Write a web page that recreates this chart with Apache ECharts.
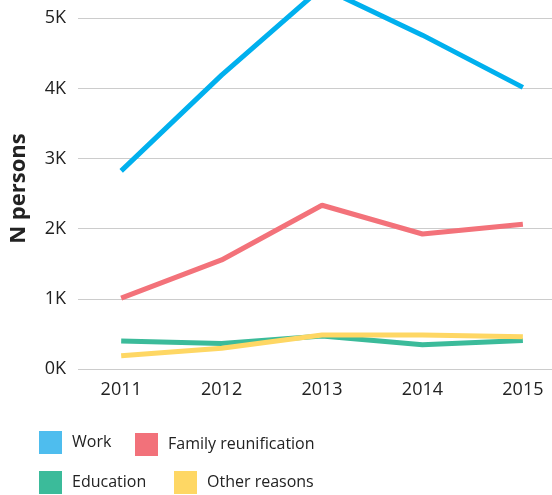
<!DOCTYPE html>
<html lang="en">
  <head>
    <meta charset="UTF-8" />
    <script src="https://cdn.jsdelivr.net/npm/echarts@6/dist/echarts.min.js"></script>
    <title>N persons by reason</title>
    <style>
      body{margin:0;padding:0;background:#fff;}
      #main{width:552px;height:495px;}
    </style>
  </head>
  <body>
    <div id="main"></div>
    <script>
      // data
      var years = [2011, 2012, 2013, 2014, 2015];
      var work = [2825, 4190, 5440, 4760, 4015];
      var family = [1010, 1555, 2335, 1925, 2065];
      var education = [400, 365, 470, 345, 405];
      var other = [190, 295, 485, 485, 460];
      var names = ['Work', 'Family reunification', 'Education', 'Other reasons'];
      var lineColors = ['#00b0ee', '#f3727a', '#3bbb9a', '#fed764'];
      var keyColors = ['#4ebdee', '#f2717a', '#3bbb9a', '#fed764'];

      function pairs(vals) {
        return years.map(function (y, i) { return [y, vals[i]]; });
      }

      var font = '"Open Sans", sans-serif';
      var textColor = '#222';

      function key(i, left, top) {
        return {
          data: [names[i]],
          left: left, top: top,
          padding: 0,
          icon: 'rect',
          itemWidth: 23, itemHeight: 23,
          selectedMode: false,
          textStyle: { fontFamily: font, fontSize: 16, color: textColor, padding: [0, 0, 0, 5] }
        };
      }

      var chart = echarts.init(document.getElementById('main'));
      var option = {
        animation: false,
        grid: { left: 76, right: 0, top: 0, bottom: 126 },
        legend: [key(0, 39, 431), key(1, 135, 433), key(2, 39, 471), key(3, 174, 471)],
        xAxis: {
          type: 'value',
          min: 2010.57,
          max: 2015.29,
          axisLine: { show: false },
          axisTick: { show: false },
          splitLine: { show: false },
          axisLabel: {
            customValues: years,
            margin: 12,
            fontFamily: font, fontSize: 18, color: textColor,
            formatter: function (v) { return String(v); }
          }
        },
        yAxis: {
          type: 'value',
          min: 0,
          max: 5261,
          interval: 1000,
          name: 'N persons',
          nameLocation: 'middle',
          nameRotate: 90,
          nameGap: 48,
          nameTextStyle: { fontFamily: font, fontSize: 22, fontWeight: 'bold', color: textColor, padding: [0, 8, 0, 0] },
          axisLine: { show: false },
          axisTick: { show: false },
          axisLabel: {
            margin: 12,
            fontFamily: font, fontSize: 18, color: textColor,
            formatter: function (v) { return v % 1000 === 0 ? (v / 1000) + 'K' : ''; }
          },
          splitLine: { showMaxLine: false, lineStyle: { color: '#cccccc', width: 1 } }
        },
        series: [work, family, education, other].map(function (vals, i) {
          return {
            name: names[i],
            type: 'line',
            data: pairs(vals),
            symbol: 'none',
            itemStyle: { color: keyColors[i] },
            lineStyle: { color: lineColors[i], width: 5 }
          };
        })
      };
      chart.setOption(option);
    </script>
  </body>
</html>
